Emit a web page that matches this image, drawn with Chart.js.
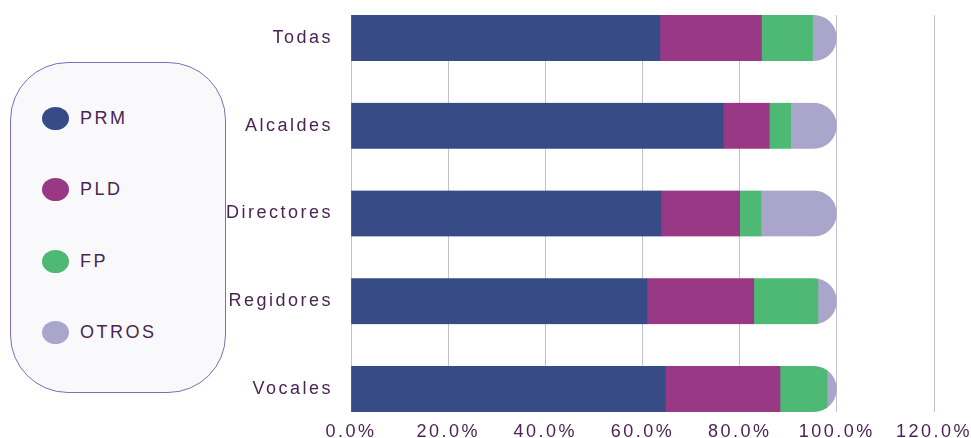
<!DOCTYPE html>
<html lang="es">
<head>
    <meta charset="UTF-8">
    <title>Distribución por partido</title>
    <script src="https://cdn.jsdelivr.net/npm/chart.js"></script>
    <style>
        body { margin: 0; background: #fff; font-family: "Liberation Sans", Arial, sans-serif; }
        #wrap { position: relative; width: 971px; height: 438px; overflow: hidden; }
        #chart { position: absolute; left: 0; top: 0; }
        #legend {
            position: absolute; left: 10px; top: 62px; width: 214px; height: 329px;
            border: 1.5px solid #7d6cb8; border-radius: 58px; background: #f9f9fc;
            box-sizing: content-box;
        }
        .item { position: absolute; left: 31px; height: 24px; display: flex; align-items: center; }
        .dot { width: 27px; height: 23px; border-radius: 50%; margin-right: 11px; }
        .item span { font-size: 18px; color: #4b2454; letter-spacing: 2.5px; }
    </style>
</head>
<body>
<div id="wrap">
    <canvas id="chart" width="971" height="438"></canvas>
    <div id="legend"></div>
</div>
<script>
    // datos (porcentajes)
    const categorias = ['Todas', 'Alcaldes', 'Directores', 'Regidores', 'Vocales'];
    const prm = [63.6, 76.6, 63.8, 60.9, 64.7];
    const pld = [20.9, 9.5, 16.2, 22.0, 23.6];
    const fp = [10.5, 4.4, 4.4, 13.2, 9.7];
    const otros = [5.0, 9.5, 15.6, 3.9, 2.0];
    const xTicks = [0, 20, 40, 60, 80, 100, 120];

    const partidos = ['PRM', 'PLD', 'FP', 'OTROS'];
    const colores = ['#374c86', '#993884', '#4eb975', '#aaa6cb'];
    const series = [prm, pld, fp, otros];

    const textColor = '#4b2454';

    // leyenda a la izquierda
    const legend = document.getElementById('legend');
    partidos.forEach((p, i) => {
        const it = document.createElement('div');
        it.className = 'item';
        it.style.top = (43 + i * 71.5) + 'px';
        it.innerHTML = '<div class="dot" style="background:' + colores[i] + '"></div><span>' + p + '</span>';
        legend.appendChild(it);
    });

    // espaciado de letras como en la imagen
    const spacing = {
        id: 'spacing',
        beforeLayout(chart) { chart.ctx.letterSpacing = '2.5px'; },
        beforeDraw(chart) { chart.ctx.letterSpacing = '2.5px'; }
    };

    // recorta cada barra apilada con el extremo derecho redondeado
    const roundEnds = {
        id: 'roundEnds',
        beforeDatasetsDraw(chart) {
            const ctx = chart.ctx;
            const last = chart.getDatasetMeta(chart.data.datasets.length - 1);
            const base = chart.scales.x.getPixelForValue(0);
            ctx.save();
            ctx.beginPath();
            last.data.forEach(el => {
                const h = el.height;
                ctx.roundRect(base, el.y - h / 2, el.x - base, h, [0, h / 2, h / 2, 0]);
            });
            ctx.clip();
        },
        afterDatasetsDraw(chart) {
            chart.ctx.restore();
        }
    };

    const ctx = document.getElementById('chart').getContext('2d');
    new Chart(ctx, {
        type: 'bar',
        data: {
            datasets: partidos.map((p, i) => ({
                label: p,
                data: series[i].map((v, j) => ({ x: v, y: j })),
                backgroundColor: colores[i],
                borderWidth: 0,
                barThickness: 46
            }))
        },
        options: {
            indexAxis: 'y',
            responsive: false,
            animation: false,
            layout: { padding: { left: 0, right: 37, top: 15, bottom: 0 } },
            plugins: { legend: { display: false }, tooltip: { enabled: false } },
            scales: {
                x: {
                    type: 'linear',
                    stacked: true,
                    min: 0,
                    max: 120,
                    afterBuildTicks: (s) => { s.ticks = xTicks.map(v => ({ value: v })); },
                    afterFit: (s) => { s.height = 26; s.paddingLeft = 0; s.paddingRight = 0; },
                    ticks: {
                        color: textColor,
                        font: { family: '"Liberation Sans", Arial, sans-serif', size: 18 },
                        padding: 9,
                        callback: (v) => v.toFixed(1) + '%'
                    },
                    grid: { color: '#c4c0d4', lineWidth: 1, drawTicks: false },
                    border: { display: false }
                },
                y: {
                    type: 'linear',
                    stacked: true,
                    reverse: true,
                    offset: false,
                    min: -0.262,
                    max: 4.262,
                    afterBuildTicks: (s) => { s.ticks = categorias.map((c, i) => ({ value: i })); },
                    afterFit: (s) => { s.width = 351; s.paddingTop = 0; s.paddingBottom = 0; },
                    ticks: {
                        color: textColor,
                        font: { family: '"Liberation Sans", Arial, sans-serif', size: 18 },
                        padding: 10,
                        callback: (v) => categorias[v]
                    },
                    grid: { display: false },
                    border: { display: false }
                }
            }
        },
        plugins: [spacing, roundEnds]
    });
</script>
</body>
</html>
